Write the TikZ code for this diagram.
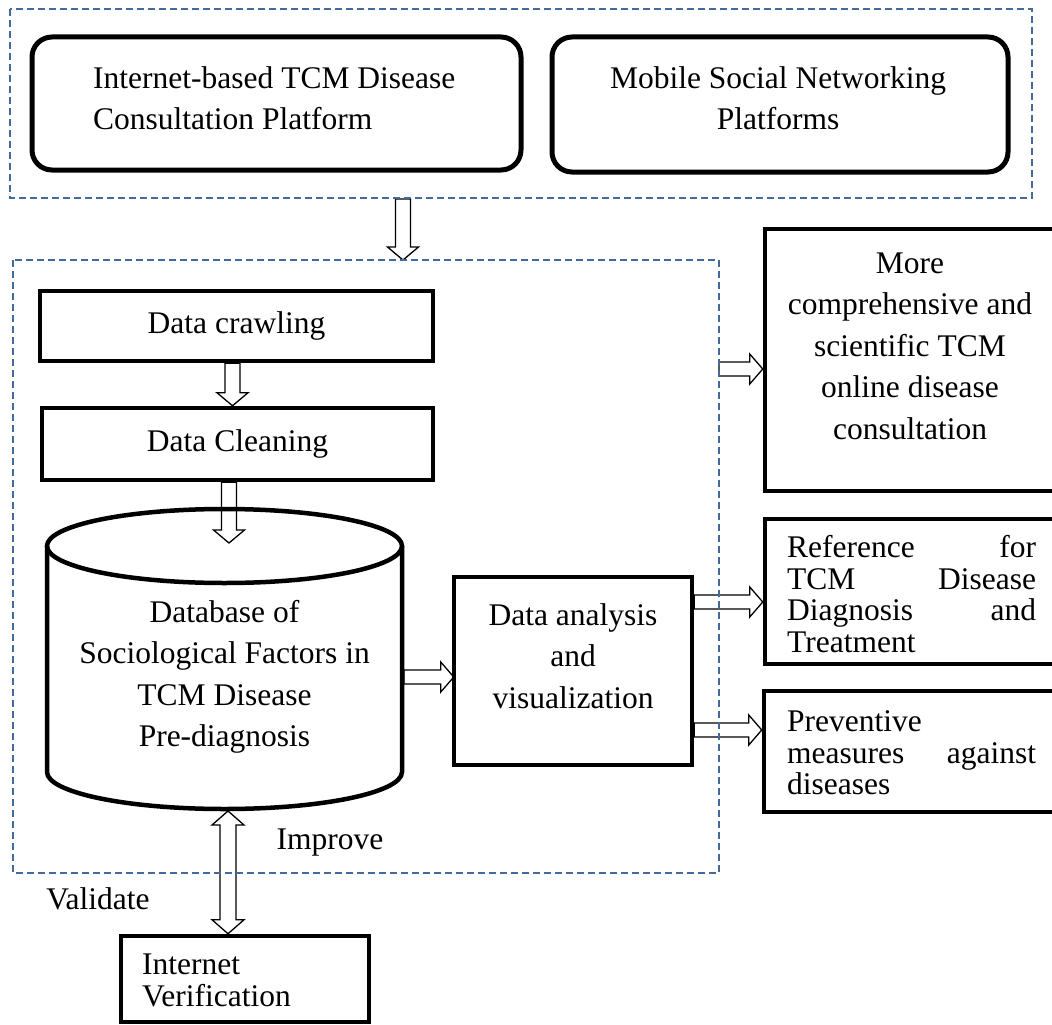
\documentclass[tikz,border=0pt]{standalone}
\usepackage{fontspec}
\setmainfont{Liberation Serif}
\usetikzlibrary{calc}
\definecolor{dashblue}{RGB}{68,106,156}
\newcommand\harr[2]{\draw[harrow] let \p1=(#1), \p2=(#2) in
  (\x1,\y1+7pt) -- (\x2-13pt,\y1+7pt) -- (\x2-13pt,\y1+15pt) -- (\x2,\y1) --
  (\x2-13pt,\y1-15pt) -- (\x2-13pt,\y1-7pt) -- (\x1,\y1-7pt) -- cycle;}
\newcommand\varr[2]{\draw[harrow] let \p1=(#1), \p2=(#2) in
  (\x1-7.5pt,\y1) -- (\x1-7.5pt,\y2+13pt) -- (\x1-15.5pt,\y2+13pt) -- (\x1,\y2) --
  (\x1+15.5pt,\y2+13pt) -- (\x1+7.5pt,\y2+13pt) -- (\x1+7.5pt,\y1) -- cycle;}
\newcommand\dvarr[2]{\draw[harrow] let \p1=(#1), \p2=(#2) in
  (\x1,\y1) -- (\x1-16pt,\y1-14pt) -- (\x1-8pt,\y1-14pt) -- (\x1-8pt,\y2+14pt) --
  (\x1-16pt,\y2+14pt) -- (\x1,\y2) -- (\x1+16pt,\y2+14pt) -- (\x1+8pt,\y2+14pt) --
  (\x1+8pt,\y1-14pt) -- (\x1+16pt,\y1-14pt) -- cycle;}
\begin{document}
\begin{tikzpicture}[x=1pt,y=1pt,
  grp/.style={draw=dashblue, line width=1.8pt, dash pattern=on 7pt off 4pt},
  rbox/.style={draw, line width=5pt, rounded corners=20pt},
  box/.style={draw, line width=4.5pt, inner sep=0pt},
  harrow/.style={draw, line width=1.3pt, line join=miter},
  txt/.style={font=\fontsize{31.5}{41.5}\selectfont, align=center, inner sep=0pt},
  jtxt/.style={font=\fontsize{31.5}{31.5}\selectfont, align=left, inner sep=0pt, text width=249pt},
]
\path[use as bounding box, clip] (0,0) rectangle (1052,-1025);
\fill[white] (0,0) rectangle (1052,-1025);

% top platform boxes
\node[rbox, minimum width=489pt, minimum height=133pt] (tl) at (276.5,-103.5) {};
\node[txt, align=left, anchor=west] (tltext) at (93,-98)
  {Internet-based TCM Disease\\Consultation Platform};
\node[rbox, minimum width=456pt, minimum height=135pt] (tr) at (780,-104.5) {};
\node[txt] (trtext) at (778,-98) {Mobile Social Networking\\Platforms};

% processing boxes
\node[box, txt, minimum width=393pt, minimum height=70pt] (crawl) at (236.5,-326) {Data crawling};
\node[box, txt, minimum width=391pt, minimum height=72pt] (clean) at (237.5,-444) {Data Cleaning};

% cylinder database
\draw[line width=4.5pt] (47,-546) -- (47,-772)
  arc[start angle=180, end angle=360, x radius=177.5pt, y radius=37pt] -- (402,-546);
\draw[line width=4.5pt] (224.5,-546) ellipse [x radius=177.5pt, y radius=37pt];
\node[txt] (db) at (224.5,-677) {Database of\\Sociological Factors in\\TCM Disease\\Pre-diagnosis};
\coordinate (dbtop) at (229,-543);
\coordinate (dbright) at (404,-677);
\coordinate (dbbot) at (228,-811);

% analysis
\node[box, minimum width=238pt, minimum height=188pt] (an) at (573,-671) {};
\node[txt] (antext) at (573,-656) {Data analysis\\and\\visualization};

% outcome boxes
\node[box, minimum width=295pt, minimum height=262pt] (more) at (912.5,-360) {};
\node[txt] (moretext) at (910,-346) {More\\comprehensive and\\scientific TCM\\online disease\\consultation};
\node[box, minimum width=295pt, minimum height=145pt] (ref) at (912.5,-591.5) {};
\node[jtxt, anchor=west] (reftext) at (787,-594)
  {Reference\hfill for\\TCM\hfill Disease\\Diagnosis\hfill and\\Treatment};
\node[box, minimum width=296pt, minimum height=121pt] (prev) at (912,-751.5) {};
\node[jtxt, anchor=west] (prevtext) at (787,-753)
  {Preventive\\measures\hfill against\\diseases};

% verification
\node[box, minimum width=248pt, minimum height=86pt] (verif) at (245,-979) {};
\node[txt, align=left, anchor=west, font=\fontsize{31.5}{32}\selectfont] (veriftext) at (142,-980)
  {Internet\\Verification};

% labels
\node[txt] (improve) at (330,-843) {Improve};
\node[txt] (validate) at (98,-899) {Validate};

% group frames (named paths)
\coordinate (topgrpS) at (403,-199);
\coordinate (gright) at (719,-369);

% arrows
\varr{topgrpS}{403,-260}
\varr{[xshift=-4pt]crawl.south}{[xshift=-4pt]clean.north}
\varr{[xshift=-8.5pt]clean.south}{dbtop}
\harr{dbright}{[xshift=2pt]an.west}
\harr{gright}{more.west}
\harr{$(an.east)+(0,69)$}{ref.west}
\harr{$(an.east)+(0,-59)$}{prev.west}
\dvarr{dbbot}{dbbot |- verif.north}

% dashed group frames
\draw[grp] (10,-9) rectangle (1032,-198);
\draw[grp] (13,-260) rectangle (719,-873);
\end{tikzpicture}
\end{document}
